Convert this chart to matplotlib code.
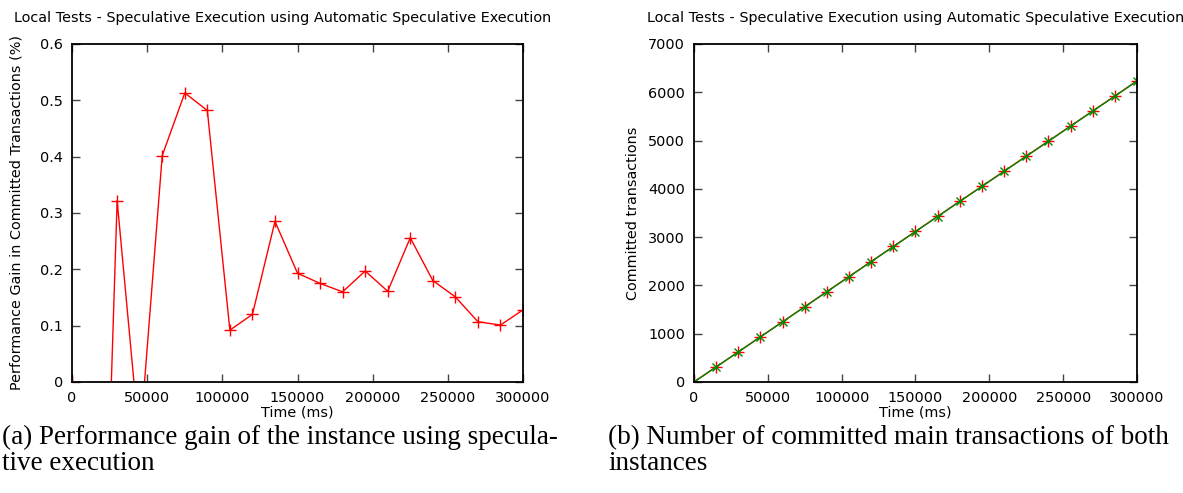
import matplotlib
matplotlib.use("Agg")
import matplotlib.pyplot as plt

# time axis shared by both panels (ms)
time_ms = [0, 15000, 30000, 45000, 60000, 75000, 90000, 105000, 120000, 135000,
           150000, 165000, 180000, 195000, 210000, 225000, 240000, 255000,
           270000, 285000, 300000]

# (a) performance gain (%)
gain = [0.0, -0.93, 0.322, -0.11, 0.402, 0.513, 0.482, 0.092, 0.120, 0.285,
        0.193, 0.175, 0.160, 0.197, 0.161, 0.256, 0.180, 0.151, 0.107, 0.101,
        0.128]

# (b) committed transactions of both instances
committed_spec = [0, 312, 623, 935, 1247, 1560, 1872, 2183, 2495, 2806, 3118,
                  3430, 3742, 4053, 4365, 4677, 4988, 5300, 5612, 5923, 6237]
committed_base = [0, 310, 620, 932, 1244, 1556, 1868, 2179, 2491, 2802, 3114,
                  3426, 3738, 4049, 4361, 4673, 4984, 5296, 5608, 5919, 6232]

x_ticks = [0, 50000, 100000, 150000, 200000, 250000, 300000]
title = "Local Tests - Speculative Execution using Automatic Speculative Execution"
fs = 10.4

plt.rcParams['font.family'] = ['DejaVu Sans']
plt.rcParams['font.size'] = fs

fig = plt.figure(figsize=(11.83, 4.93), dpi=100)
ax1 = fig.add_axes([0.0609, 0.2252, 0.3812, 0.6856])
ax2 = fig.add_axes([0.5866, 0.2252, 0.3745, 0.6856])


def gnuplot_style(ax):
    for s in ax.spines.values():
        s.set_linewidth(1.3)
    ax.tick_params(direction='in', top=True, right=True, length=6,
                   width=1.0, color='#444444', labelsize=fs, pad=6.5)
    ax.set_xticks(x_ticks)
    ax.set_xticklabels([str(t) for t in x_ticks])
    ax.set_xlim(0, 300000)
    ax.set_xlabel("Time (ms)", fontsize=fs, labelpad=0)


# panel (a)
ax1.plot(time_ms, gain, color='red', lw=1.0, marker='+', ms=8, mew=1.0)
ax1.set_ylim(0, 0.6)
ax1.set_yticks([0, 0.1, 0.2, 0.3, 0.4, 0.5, 0.6])
ax1.set_yticklabels(['0', '0.1', '0.2', '0.3', '0.4', '0.5', '0.6'])
ax1.set_ylabel("Performance Gain in Committed Transactions (%)", fontsize=fs, labelpad=12)
gnuplot_style(ax1)

# panel (b)
ax2.plot(time_ms, committed_spec, color='red', lw=1.0, marker='+', ms=8, mew=1.0)
ax2.plot(time_ms, committed_base, color='#008a00', lw=1.0, marker='x', ms=6, mew=1.0)
ax2.set_ylim(0, 7000)
ax2.set_yticks(range(0, 7001, 1000))
ax2.set_ylabel("Committed transactions", fontsize=fs, labelpad=6)
gnuplot_style(ax2)

fig.text(0.239, 0.963, title, ha='center', va='center', fontsize=fs)
fig.text(0.774, 0.963, title, ha='center', va='center', fontsize=fs)

cap = dict(family=['Liberation Serif', 'DejaVu Serif'], fontsize=19.5,
           ha='left', va='baseline')
fig.text(0.002, 1 - 444 / 493, "(a) Performance gain of the instance using specula-", **cap)
fig.text(0.002, 1 - 470 / 493, "tive execution", **cap)
fig.text(0.514, 1 - 444 / 493, "(b) Number of committed main transactions of both", **cap)
fig.text(0.514, 1 - 470 / 493, "instances", **cap)

fig.savefig("out.png", dpi=100)
